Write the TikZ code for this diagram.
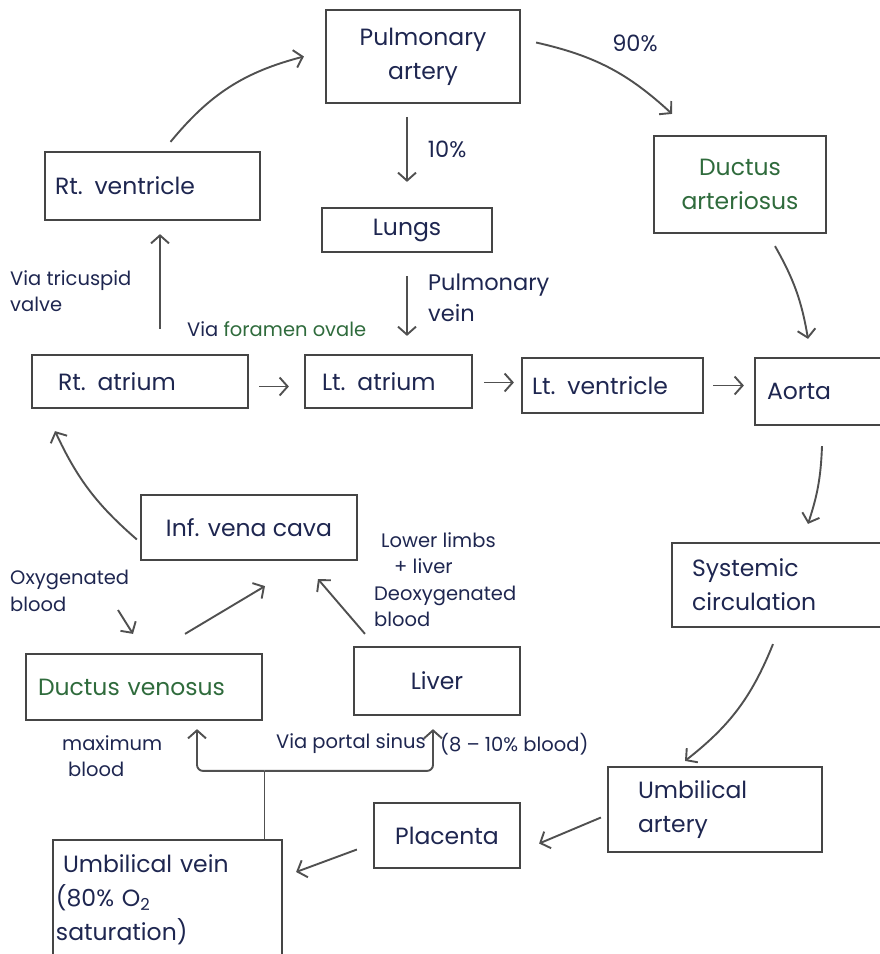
\documentclass[tikz,border=0pt]{standalone}
\usepackage{fontspec}
\setmainfont{Poppins}
\usetikzlibrary{arrows.meta,calc}
\definecolor{inkblue}{HTML}{1E2650}
\definecolor{inkgreen}{HTML}{2F6B3C}
\definecolor{boxline}{HTML}{454545}
\definecolor{arrowline}{HTML}{505050}
\tikzset{
  box/.style={draw=boxline, line width=2.2pt, text=inkblue, font=\fontsize{23.5}{34}\selectfont, inner sep=0pt},
  flow/.style={-{Straight Barb[length=8pt,width=18pt]}, draw=arrowline, line width=1.9pt},
  feedline/.style={draw=arrowline, line width=1.9pt},
  note/.style={text=inkblue, font=\fontsize{19.5}{26.5}\selectfont, align=left, inner sep=0pt},
  tag/.style={text=inkblue, font=\fontsize{22.5}{31}\selectfont, align=left, inner sep=0pt},
}
\begin{document}
\begin{tikzpicture}[x=1pt,y=-1pt]
\useasboundingbox (0,0) rectangle (879,954);
% heart and lungs
\node[box, minimum width=194pt, minimum height=93pt, align=center] (pa) at (423,56.5) {Pulmonary\\artery};
\node[box, minimum width=215pt, minimum height=68pt, text width=195pt, align=left] (rv) at (152.5,186) {Rt. ventricle};
\node[box, minimum width=170pt, minimum height=44pt, align=center] (lungs) at (407,230) {Lungs};
\node[box, minimum width=172pt, minimum height=97pt, align=center, text=inkgreen] (da) at (740,184.5) {Ductus\\arteriosus};
\node[box, minimum width=216pt, minimum height=53pt, text width=164pt, align=left] (ra) at (140,381.5) {Rt. atrium};
\node[box, minimum width=167pt, minimum height=53pt, text width=133pt, align=left] (la) at (388.5,381.5) {Lt. atrium};
\node[box, minimum width=181pt, minimum height=55pt, text width=161pt, align=left] (lv) at (612.5,385.5) {Lt. ventricle};
\node[box, minimum width=130pt, minimum height=67pt, text width=106pt, align=left] (ao) at (820,391.5) {Aorta};
% body and placenta
\node[box, minimum width=212pt, minimum height=84pt, text width=172pt, align=left] (sc) at (778,585) {Systemic\\circulation};
\node[box, minimum width=216pt, minimum height=65pt, align=center] (ivc) at (249,527.5) {Inf. vena cava};
\node[box, minimum width=236pt, minimum height=66pt, text width=212pt, align=left, text=inkgreen] (dv) at (144,687) {Ductus venosus};
\node[box, minimum width=166pt, minimum height=68pt, align=center] (liver) at (437,681) {Liver};
\node[box, minimum width=214pt, minimum height=85pt, text width=154pt, align=left] (ua) at (715,809.5) {Umbilical\\artery};
\node[box, minimum width=146pt, minimum height=65pt, align=center] (pl) at (447,835.5) {Placenta};
\node[box, minimum width=229pt, minimum height=120pt, text width=223pt, align=left] (uv) at (167.5,900) {\hspace{7pt}Umbilical vein\\(80\% O\textsubscript{2}\\saturation)};
% labels
\node[tag] (p90) at (635,43) {90\%};
\node[tag, anchor=north west] (pv) at (428,274) {Pulmonary\\vein};
\node[note, anchor=north west] (tric) at (10,270) {Via tricuspid\\valve};
\node[note, anchor=west] (foramen) at (187,329) {Via \textcolor{inkgreen}{foramen ovale}};
\node[note, anchor=north west] (oxy) at (10,570) {Oxygenated\\blood};
\node[note, anchor=north west] (lower) at (374,532) {\hspace{7pt}Lower limbs\\\hspace{20pt}+ liver\\Deoxygenated\\blood};
\node[note, anchor=north west] (maxi) at (62,735) {maximum\\\hspace{6pt}blood};
\node[note, anchor=east] (portal) at (426,744) {Via portal sinus};
\node[note, anchor=west] (share) at (440,744) {(8 – 10\% blood)};
% arrows
\draw[flow] ($(rv.north)+(18,-9)$) to[bend left=18] ($(pa.west)+(-21,0)$);
\draw[flow] ($(pa.east)+(15,-14)$) to[bend left=15] ($(da.north)+(-68,-21)$);
\draw[flow] ($(lungs.north)+(0,-90)$) -- ($(lungs.north)+(0,-25)$) node[tag, midway, right=20pt] (p10) {10\%};
\draw[flow] ($(lungs.south)+(0,23)$) -- ($(lungs.south |- la.north)+(0,-18)$);
\draw[flow] ($(da.south)+(35,12)$) to[bend left=10] ($(ao.north)+(-12,-18)$);
\draw[flow] ($(ra.east)+(10,5)$) -- ($(la.west)+(-15,5)$);
\draw[flow] ($(la.east)+(11,1)$) -- ($(lv.west)+(-7,-3)$);
\draw[flow] ($(lv.east)+(9,0)$) -- ($(ao.west)+(-10,-6)$);
\draw[flow] ($(ao.south)+(2,20)$) to[bend left=8] ($(sc.north)+(30,-18)$);
\draw[flow] ($(sc.south)+(-5,16)$) to[bend left=15] ($(ua.north)+(-30,-5)$);
\draw[flow] ($(ua.west)+(-6,8)$) -- ($(pl.east)+(18,8)$);
\draw[flow] ($(pl.west)+(-16,14)$) -- ($(uv.east)+(13,-28)$);
\draw[feedline] ($(uv.north)+(97,0)$) -- ++(0,-68) coordinate (split);
\draw[flow, rounded corners=6pt] (split) -| ($(dv.south)+(53,8)$);
\draw[flow, rounded corners=6pt] (split) -| ($(liver.south)+(-4,13)$);
\draw[flow] ($(dv.north)+(41,-19)$) -- ($(ivc.south)+(16,25)$);
\draw[flow] ($(liver.north)+(-72,-12)$) -- ($(ivc.south)+(69,18)$);
\draw[flow] ($(oxy.north west)+(108,40)$) -- ($(dv.north)+(-11,-19)$);
\draw[flow] ($(ivc.west)+(-3,12)$) to[bend left=12] ($(ra.south)+(-85,22)$);
\draw[flow] ($(ra.north)+(20,-25)$) -- ($(rv.south)+(7.5,13)$);
\end{tikzpicture}
\end{document}
